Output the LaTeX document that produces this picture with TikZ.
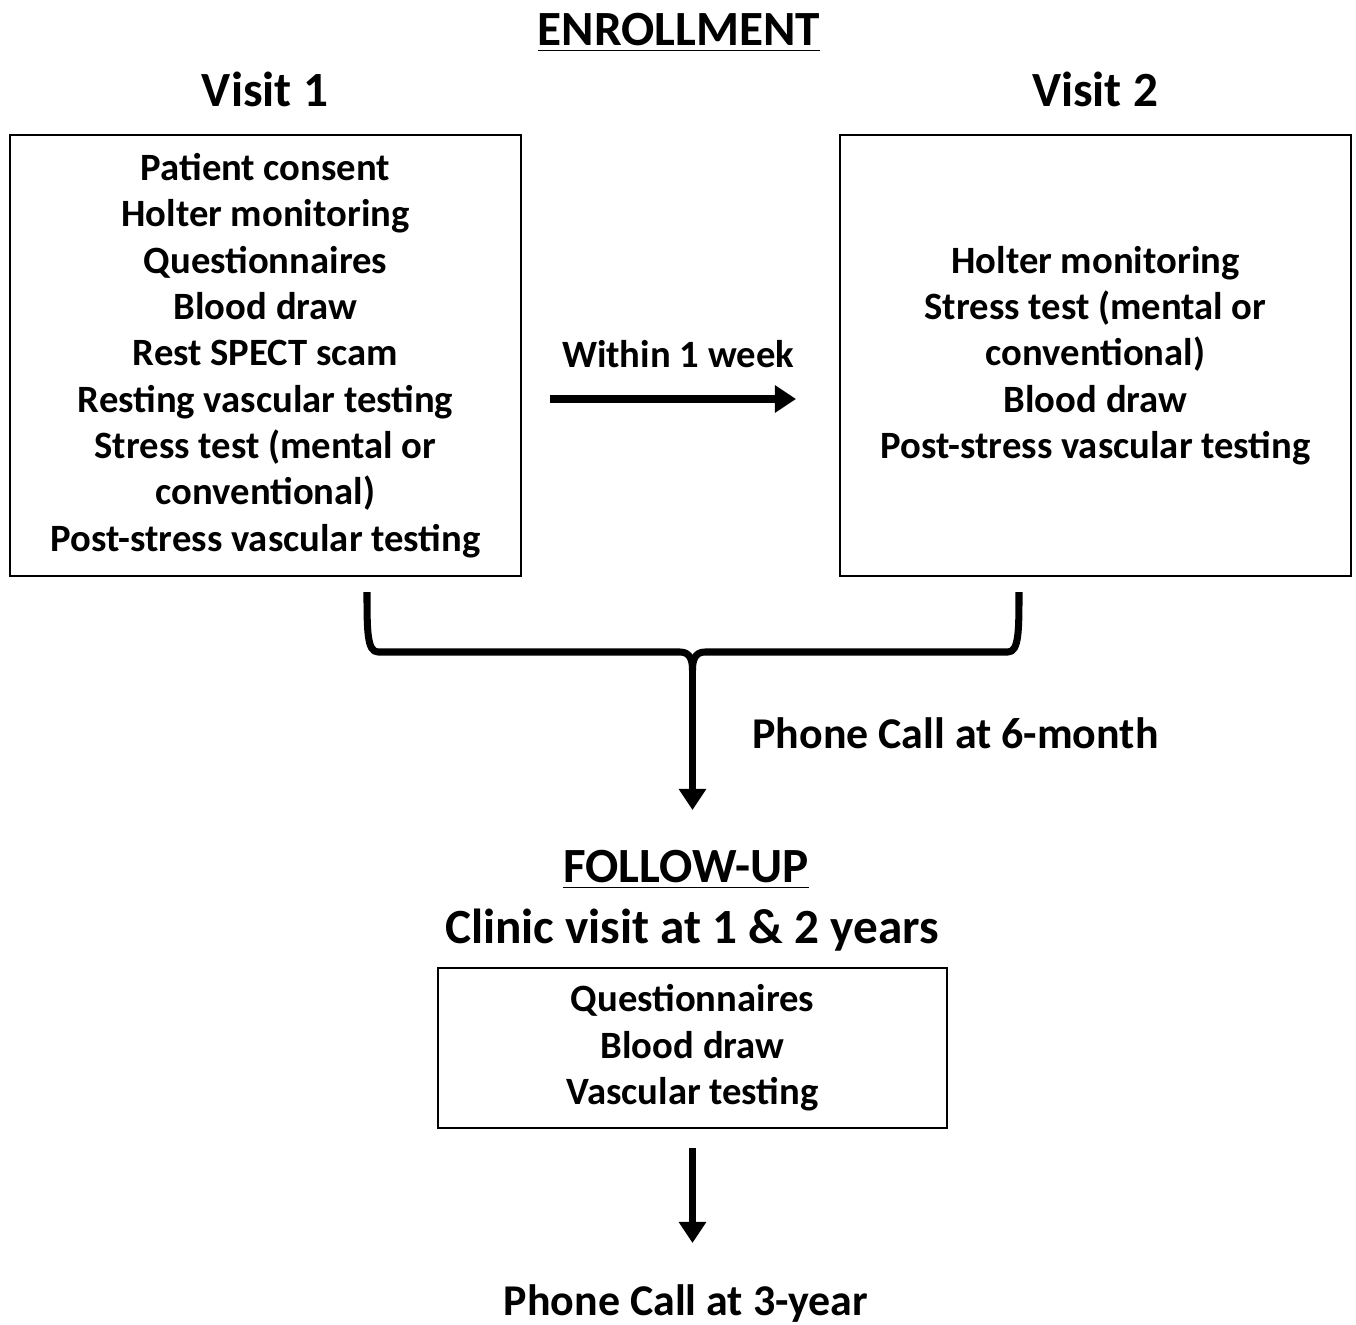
\documentclass[tikz,border=0pt]{standalone}
\usepackage{fontspec}
\setmainfont{Carlito}
\usetikzlibrary{arrows.meta}

\begin{document}
\begin{tikzpicture}[
    font=\bfseries\fontsize{11}{13.2}\selectfont,
    box/.style={
        draw, line width=0.8pt, align=center, inner sep=0pt,
        minimum width=5.11cm, minimum height=4.41cm
    },
    head/.style={font=\bfseries\fontsize{14}{17}\selectfont},
    lbl/.style={font=\bfseries\fontsize{12.5}{15}\selectfont},
    arr/.style={line width=2pt, -{Triangle[length=6pt,width=7.5pt]}},
    br/.style={line width=2pt}
]
    \useasboundingbox (0,0) rectangle (13.56,-13.25);

    \node [head] (enr) at (6.79,-0.33) {\underline{ENROLLMENT}};
    \node [head] (v1t) at (2.65,-0.89) {Visit 1};
    \node [head] (v2t) at (10.95,-0.89) {Visit 2};

    \node [box] (V1) at (2.655,-3.555) {Patient consent\\Holter monitoring\\Questionnaires\\Blood draw\\Rest SPECT scam\\Resting vascular testing\\Stress test (mental or\\conventional)\\Post-stress vascular testing};
    \node [box] (V2) at (10.955,-3.555) {Holter monitoring\\Stress test (mental or\\conventional)\\Blood draw\\Post-stress vascular testing};

    \node [lbl, font=\bfseries\fontsize{11}{14}\selectfont] (wk) at (6.78,-3.54) {Within 1 week};
    \coordinate (a1) at (5.50,-3.99);
    \coordinate (a2) at (7.96,-3.99);
    \draw [arr] (a1) -- (a2);

    \coordinate (bl) at (3.67,-5.92);
    \coordinate (br) at (10.19,-5.92);
    \coordinate (bm) at (6.925,-6.70);
    \coordinate (fu) at (6.925,-8.10);
    \draw [br, line join=round]
        (bl) .. controls (3.67,-6.30) and (3.67,-6.52) .. (3.78,-6.52)
        -- (6.80,-6.52) .. controls (6.90,-6.52) and (6.925,-6.60) .. (bm);
    \draw [br, line join=round]
        (br) .. controls (10.19,-6.30) and (10.19,-6.52) .. (10.08,-6.52)
        -- (7.05,-6.52) .. controls (6.95,-6.52) and (6.925,-6.60) .. (bm);
    \draw [arr] (bm) -- (fu);
    \node [lbl, anchor=west] (pc6) at (7.40,-7.33) {Phone Call at 6-month};

    \node [head] (fol) at (6.86,-8.70) {\underline{FOLLOW-UP}};
    \node [head] (cli) at (6.92,-9.30) {Clinic visit at 1 \& 2 years};

    \node [box, minimum width=5.09cm, minimum height=1.60cm] (FU) at (6.925,-10.48) {Questionnaires\\Blood draw\\Vascular testing};

    \coordinate (c1) at (6.925,-11.48);
    \coordinate (c2) at (6.925,-12.43);
    \draw [arr] (c1) -- (c2);
    \node [lbl] (pc3) at (6.86,-13.04) {Phone Call at 3-year};
\end{tikzpicture}
\end{document}
